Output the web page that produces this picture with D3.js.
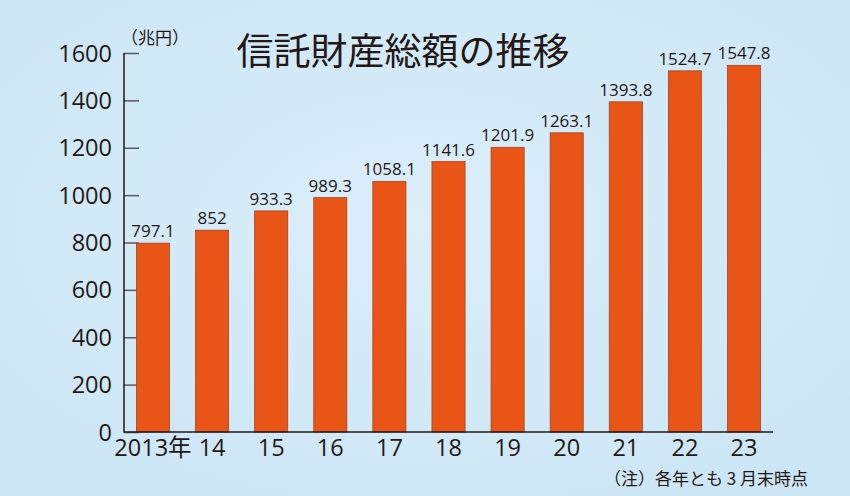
<!DOCTYPE html>
<html>
<head>
<meta charset="utf-8">
<script src="https://cdn.jsdelivr.net/npm/d3@7"></script>
<style>
  html, body { margin: 0; padding: 0; }
  body { width: 850px; height: 496px; overflow: hidden; }
  text { font-family: "Open Sans", "Noto Sans CJK JP", sans-serif; fill: #231815; }
</style>
</head>
<body>
<svg id="chart"></svg>
<script>
// data
const years = ["2013年", "14", "15", "16", "17", "18", "19", "20", "21", "22", "23"]
const totals = [797.1, 852, 933.3, 989.3, 1058.1, 1141.6, 1201.9, 1263.1, 1393.8, 1524.7, 1547.8]
const totalLabels = ["797.1", "852", "933.3", "989.3", "1058.1", "1141.6", "1201.9", "1263.1", "1393.8", "1524.7", "1547.8"]
const yTicks = [0, 200, 400, 600, 800, 1000, 1200, 1400, 1600]

const width = 850
const height = 496
const plotLeft = 124, plotRight = 773, plotTop = 53, plotBottom = 432

const rows = years.map((y, i) => ({ year: y, value: totals[i], label: totalLabels[i] }))

let svg = d3.select("#chart")
    .attr("width", width)
    .attr("height", height)

// background
let defs = svg.append("defs")
let grad = defs.append("radialGradient")
    .attr("id", "bg")
    .attr("cx", "50%").attr("cy", "45%").attr("r", "70%")
grad.append("stop").attr("offset", "0%").attr("stop-color", "#dbeefa")
grad.append("stop").attr("offset", "100%").attr("stop-color", "#cbe5f5")

svg.append("rect")
    .attr("width", width)
    .attr("height", height)
    .attr("fill", "url(#bg)")

let xScale = d3.scaleBand()
    .domain(years)
    .range([plotLeft, plotRight])
    .paddingInner(0.44)
    .paddingOuter(0.21)

let yScale = d3.scaleLinear()
    .domain([0, 1600])
    .range([plotBottom, plotTop])

// y axis: ticks point inward
let yAxis = d3.axisRight(yScale)
    .tickValues(yTicks)
    .tickSize(15)
    .tickFormat("")

let yg = svg.append("g")
    .attr("transform", "translate(" + plotLeft + ",0)")
    .call(yAxis)
yg.select(".domain").remove()
yg.selectAll(".tick line").attr("stroke", "#5a5a5a").attr("stroke-width", 1.5)

// y tick labels
svg.append("g")
    .selectAll("text")
    .data(yTicks)
    .enter()
    .append("text")
    .attr("x", 112)
    .attr("y", d => yScale(d) + 8.5)
    .attr("text-anchor", "end")
    .style("font-size", "23.5px")
    .text(d => d)

// bars
svg.append("g")
    .selectAll("rect")
    .data(rows)
    .enter()
    .append("rect")
    .attr("x", d => xScale(d.year))
    .attr("y", d => yScale(d.value))
    .attr("width", xScale.bandwidth())
    .attr("height", d => plotBottom - yScale(d.value))
    .attr("fill", "#e85516")
    .attr("stroke", "#a9421c")
    .attr("stroke-width", 0.8)

// value labels
svg.append("g")
    .selectAll("text")
    .data(rows)
    .enter()
    .append("text")
    .attr("x", d => xScale(d.year) + xScale.bandwidth() / 2)
    .attr("y", d => yScale(d.value) - 6)
    .attr("text-anchor", "middle")
    .style("font-size", "17px")
    .text(d => d.label)

// axis lines
svg.append("path")
    .attr("d", "M" + plotLeft + "," + plotTop + "V" + plotBottom + "H" + plotRight)
    .attr("fill", "none")
    .attr("stroke", "#231815")
    .attr("stroke-width", 1.5)

// x labels
svg.append("g")
    .selectAll("text")
    .data(years)
    .enter()
    .append("text")
    .attr("x", d => xScale(d) + xScale.bandwidth() / 2)
    .attr("y", 456)
    .attr("text-anchor", "middle")
    .style("font-size", "23.5px")
    .text(d => d)

// unit
svg.append("text")
    .attr("x", 121)
    .attr("y", 44)
    .style("font-size", "17px")
    .style("font-family", "'Noto Sans CJK JP', sans-serif")
    .text("（兆円）")

// title
svg.append("text")
    .attr("x", 403)
    .attr("y", 65)
    .attr("text-anchor", "middle")
    .style("font-size", "37px")
    .style("font-family", "'Noto Sans CJK JP', sans-serif")
    .text("信託財産総額の推移")

// note
svg.append("text")
    .attr("x", 808)
    .attr("y", 485)
    .attr("text-anchor", "end")
    .style("font-size", "17px")
    .style("font-family", "'Noto Sans CJK JP', sans-serif")
    .text("（注）各年とも 3 月末時点")
</script>
</body>
</html>
